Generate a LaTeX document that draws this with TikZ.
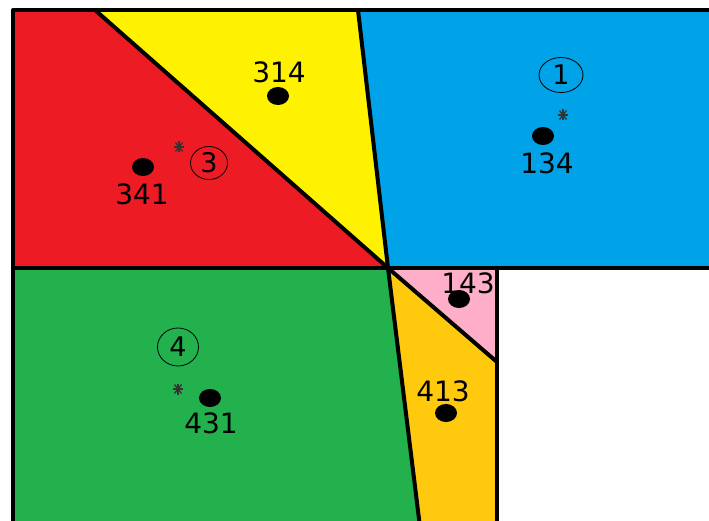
\documentclass[tikz,border=0pt]{standalone}
\usepackage{fontspec}
\setmainfont{DejaVu Sans}
\usetikzlibrary{shapes.geometric}
\definecolor{cred}{HTML}{ED1C24}
\definecolor{cyellow}{HTML}{FFF200}
\definecolor{cblue}{HTML}{00A2E8}
\definecolor{cgreen}{HTML}{22B14C}
\definecolor{cpink}{HTML}{FFAEC9}
\definecolor{corange}{HTML}{FFC90E}
\tikzset{
  edge/.style={line width=4pt, line join=round, line cap=round},
  lbl/.style={font=\fontsize{28}{30}\selectfont, inner sep=0pt},
  dotmark/.style={ellipse, fill=black, minimum width=22pt, minimum height=18pt, inner sep=0pt},
  circnum/.style={ellipse, draw=black, line width=0.8pt, font=\fontsize{27}{30}\selectfont, inner sep=0pt},
  star/.style={black!80, line width=1.3pt}
}
\begin{document}
\begin{tikzpicture}[x=1pt,y=-1pt]
\useasboundingbox (0,0) rectangle (709,521);
\clip (0,0) rectangle (709,521);
\fill[white] (0,0) rectangle (709,521);
\coordinate (P) at (388,268);
\coordinate (A) at (13,10);
\coordinate (B) at (95,10);
\coordinate (C) at (358,10);
\coordinate (D) at (730,10);
\coordinate (E) at (730,268);
\coordinate (F) at (13,268);
\coordinate (G) at (497,268);
\coordinate (H) at (497,362);
\coordinate (I) at (421,535);
\coordinate (J) at (497,535);
\coordinate (K) at (13,535);
% fills
\fill[cred] (A) -- (B) -- (P) -- (F) -- cycle;
\fill[cyellow] (B) -- (C) -- (P) -- cycle;
\fill[cblue] (C) -- (D) -- (E) -- (P) -- cycle;
\fill[cgreen] (F) -- (P) -- (I) -- (K) -- cycle;
\fill[corange] (P) -- (H) -- (J) -- (I) -- cycle;
\fill[cpink] (P) -- (G) -- (H) -- cycle;
% lines
\draw[edge] (K) -- (A) -- (D);
\draw[edge] (F) -- (E);
\draw[edge] (G) -- (J);
\draw[edge] (B) -- (P);
\draw[edge] (C) -- (P);
\draw[edge] (P) -- (I);
\draw[edge] (P) -- (H);
% labels and dots
\node[lbl] (t314) at (279,72) {314};
\node[dotmark] (d314) at (278,96) {};
\node[dotmark] (d341) at (143,167) {};
\node[lbl] (t341) at (142,194) {341};
\node[circnum, minimum width=37pt, minimum height=33pt] (c3) at (209,163) {3};
\node[dotmark] (d134) at (543,136) {};
\node[lbl] (t134) at (547,163) {134};
\node[circnum, minimum width=44pt, minimum height=35pt] (c1) at (561,75) {1};
\node[circnum, minimum width=41pt, minimum height=38pt] (c4) at (178,347) {4};
\node[dotmark] (d431) at (210,398) {};
\node[lbl] (t431) at (211,423) {431};
\node[lbl] (t413) at (443,391) {413};
\node[dotmark] (d413) at (446,413) {};
\node[dotmark] (d143) at (459,299) {};
\node[lbl] (t143) at (468,283) {143};
% asterisks
\foreach \x/\y in {179/147, 563/115, 178/389} {
  \draw[star] (\x-5,\y) -- (\x+5,\y);
  \draw[star] (\x-3.5,\y-4.5) -- (\x+3.5,\y+4.5);
  \draw[star] (\x-3.5,\y+4.5) -- (\x+3.5,\y-4.5);
  \draw[star] (\x,\y-5.5) -- (\x,\y+5.5);
}
\end{tikzpicture}
\end{document}
